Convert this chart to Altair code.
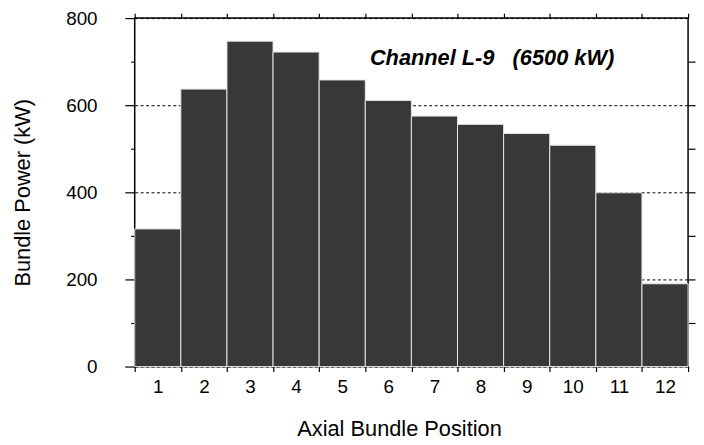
import altair as alt
import pandas as pd

positions = [1, 2, 3, 4, 5, 6, 7, 8, 9, 10, 11, 12]
powers = [316, 637, 747, 722, 658, 611, 575, 556, 535, 508, 399, 190]
bounds = [0.5 + i for i in range(13)]
y_major = [0, 200, 400, 600, 800]
y_minor = [100, 300, 500, 700]
y_right = [100, 200, 300, 400, 500, 600, 700]
note_text = ["Channel L-9\u00a0\u00a0\u00a0(6500 kW)"]
note_x = [5.6]
note_y = [693]

df = pd.DataFrame({
    "pos": positions,
    "power": powers,
    "lo": [p - 0.5 for p in positions],
    "hi": [p + 0.5 for p in positions],
})
note = pd.DataFrame({"t": note_text, "x": note_x, "y": note_y})

FONT = "Liberation Sans"
xs = alt.Scale(domain=[0.5, 12.5], nice=False, zero=False)
ys = alt.Scale(domain=[0, 800], nice=False)

W, H = 559, 352

bars = alt.Chart(df).mark_bar(
    fill="#383838", stroke="#e6e6e6", strokeWidth=1
).encode(
    x=alt.X("lo:Q", scale=xs, axis=alt.Axis(
        orient="bottom", values=bounds, labels=False, tickSize=5,
        tickColor="black", tickWidth=1.2, domain=False, grid=False, title=None)),
    x2="hi:Q",
    y=alt.Y("power:Q", scale=ys, axis=alt.Axis(
        orient="left", values=y_major, tickSize=10, tickColor="black",
        tickWidth=1.2, labelPadding=28, labelFontSize=19, labelFont=FONT,
        labelColor="black", domain=False, grid=True, gridDash=[3, 2.5],
        gridColor="black", gridWidth=1, gridOpacity=1,
        title="Bundle Power (kW)", titleFont=FONT, titleFontSize=22,
        titleFontWeight="normal", titleColor="black", titleX=-113,
        titleY=176, titleBaseline="middle", titleAngle=270)),
    y2=alt.datum(0),
)

labels_layer = alt.Chart(df).mark_point(opacity=0).encode(
    x=alt.X("pos:Q", scale=xs, axis=alt.Axis(
        orient="bottom", values=positions, tickSize=0, labelPadding=11,
        labelFontSize=19, labelFont=FONT, labelColor="black", domain=False,
        grid=False, title="Axial Bundle Position", titleFont=FONT,
        titleFontSize=22, titleFontWeight="normal", titleColor="black",
        titleX=267, titleY=70, titleBaseline="alphabetic")),
    y=alt.Y("power:Q", scale=ys, axis=alt.Axis(
        orient="left", values=y_minor, tickSize=4, tickColor="black",
        tickWidth=1.2, labels=False, domain=False, grid=False, title=None)),
)

frame_layer = alt.Chart(df).mark_point(opacity=0).encode(
    x=alt.X("pos:Q", scale=xs, axis=alt.Axis(
        orient="top", values=bounds, tickSize=5, tickColor="black",
        tickWidth=1.2, labels=False, domain=False, grid=False, title=None)),
    y=alt.Y("power:Q", scale=ys, axis=alt.Axis(
        orient="right", values=y_right, tickSize=7, tickColor="black",
        tickWidth=1.2, labels=False, domain=False, grid=False, title=None)),
)

text_layer = alt.Chart(note).mark_text(
    align="left", baseline="alphabetic", font=FONT, fontSize=22,
    fontStyle="italic", fontWeight="bold", color="black"
).encode(
    x=alt.X("x:Q", scale=xs, axis=None),
    y=alt.Y("y:Q", scale=ys, axis=None),
    text="t:N",
)

chart = alt.layer(bars, labels_layer, frame_layer, text_layer).resolve_scale(
    x="independent", y="independent"
).resolve_axis(
    x="independent", y="independent"
).properties(
    width=W, height=H,
    autosize=alt.AutoSizeParams(type="none"),
    padding={"left": 128, "top": 8, "right": 8, "bottom": 72},
    background="white",
).configure_view(stroke="black", strokeWidth=1.5)

chart.save("out.html", embed_options={"renderer": "svg", "actions": False})
